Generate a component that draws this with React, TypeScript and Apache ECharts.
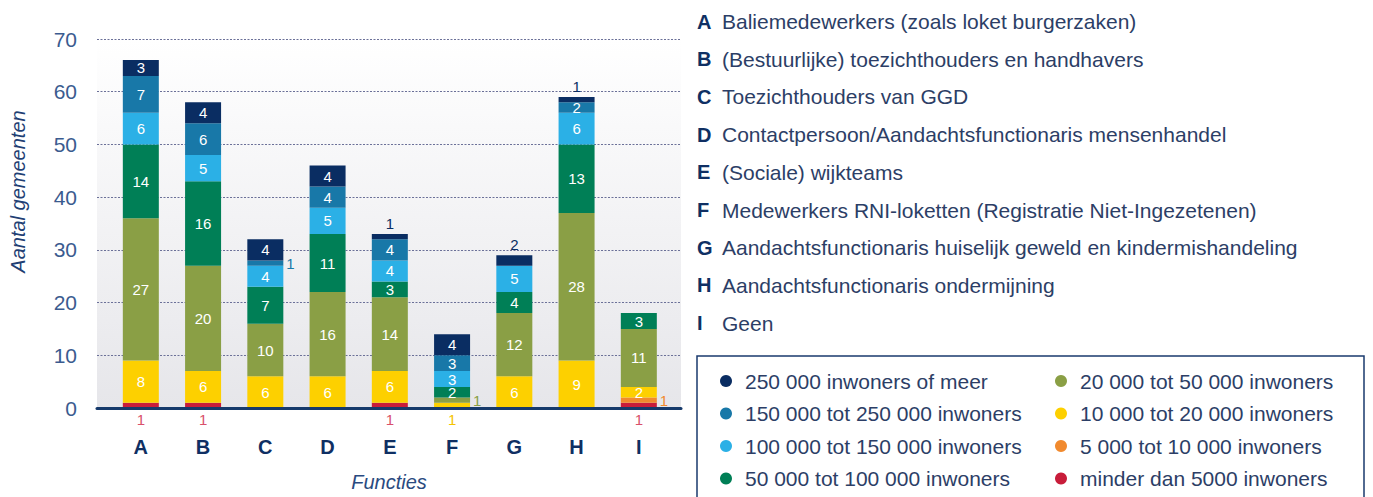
import React, { useEffect, useRef } from "react";
import * as echarts from "echarts";

const categories = ["A", "B", "C", "D", "E", "F", "G", "H", "I"];

const seriesNames = [
  "minder dan 5000 inwoners",
  "5 000 tot 10 000 inwoners",
  "10 000 tot 20 000 inwoners",
  "20 000 tot 50 000 inwoners",
  "50 000 tot 100 000 inwoners",
  "100 000 tot 150 000 inwoners",
  "150 000 tot 250 000 inwoners",
  "250 000 inwoners of meer",
];

const lt5k = [1, 1, 0, 0, 1, 0, 0, 0, 1];
const k5to10 = [0, 0, 0, 0, 0, 0, 0, 0, 1];
const k10to20 = [8, 6, 6, 6, 6, 1, 6, 9, 2];
const k20to50 = [27, 20, 10, 16, 14, 1, 12, 28, 11];
const k50to100 = [14, 16, 7, 11, 3, 2, 4, 13, 3];
const k100to150 = [6, 5, 4, 5, 4, 3, 5, 6, 0];
const k150to250 = [7, 6, 1, 4, 4, 3, 0, 2, 0];
const k250plus = [3, 4, 4, 4, 1, 4, 2, 1, 0];

const seriesValues = [lt5k, k5to10, k10to20, k20to50, k50to100, k100to150, k150to250, k250plus];

const seriesColors = ["#c81d3a", "#f18a2e", "#fdd000", "#8a9f45", "#007f56", "#2bb0e6", "#1878a8", "#0a2d62"];
const outsideLabelColors = ["#d9506a", "#f18a2e", "#f5c400", "#8a9f45", "#007f56", "#2bb0e6", "#1878a8", "#0a2d62"];

// outside label placement: [seriesIndex, categoryIndex, position]
const outsideLabels: [number, number, string][] = [
  [0, 0, "bottom"],
  [0, 1, "bottom"],
  [0, 4, "bottom"],
  [0, 8, "bottom"],
  [2, 5, "bottom"],
  [1, 8, "right"],
  [3, 5, "right"],
  [6, 2, "right"],
  [7, 4, "top"],
  [7, 6, "top"],
  [7, 7, "top"],
];

const functionLetters = ["A", "B", "C", "D", "E", "F", "G", "H", "I"];
const functionNames = [
  "Baliemedewerkers (zoals loket burgerzaken)",
  "(Bestuurlijke) toezichthouders en handhavers",
  "Toezichthouders van GGD",
  "Contactpersoon/Aandachtsfunctionaris mensenhandel",
  "(Sociale) wijkteams",
  "Medewerkers RNI-loketten (Registratie Niet-Ingezetenen)",
  "Aandachtsfunctionaris huiselijk geweld en kindermishandeling",
  "Aandachtsfunctionaris ondermijning",
  "Geen",
];

const legendCol1 = [seriesNames[7], seriesNames[6], seriesNames[5], seriesNames[4]];
const legendCol2 = [seriesNames[3], seriesNames[2], seriesNames[1], seriesNames[0]];

const FONT = "'Liberation Sans', Arial, sans-serif";

export default function App() {
  const ref = useRef<HTMLDivElement>(null);

  useEffect(() => {
    if (!ref.current) return;
    const chart = echarts.init(ref.current, null, { renderer: "svg" });

    const series: any[] = seriesValues.map((vals, si) => ({
      name: seriesNames[si],
      type: "bar",
      stack: "total",
      xAxisIndex: 0,
      yAxisIndex: 0,
      barWidth: 36,
      itemStyle: { color: seriesColors[si] },
      label: {
        show: true,
        position: "inside",
        color: "#ffffff",
        fontSize: 15,
        fontFamily: FONT,
      },
      data: vals.map((v, ci) => {
        const out = outsideLabels.find((o) => o[0] === si && o[1] === ci);
        if (v === 0) return { value: v, label: { show: false } };
        if (out) {
          return {
            value: v,
            label: {
              show: true,
              position: out[2],
              distance: out[2] === "bottom" ? 4 : 3,
              color: outsideLabelColors[si],
              fontSize: 15,
              fontFamily: FONT,
            },
          };
        }
        return { value: v };
      }),
    }));

    series.push({
      name: "bg",
      type: "line",
      xAxisIndex: 1,
      yAxisIndex: 1,
      data: [],
      silent: true,
    });

    const graphic: any[] = [];
    functionLetters.forEach((l, i) => {
      const y = 21.5 + i * 37.7;
      graphic.push({
        type: "text",
        left: 697,
        top: y - 10,
        style: {
          text: l,
          font: `bold 20px ${FONT}`,
          fill: "#0f2f63",
        },
      });
      graphic.push({
        type: "text",
        left: 722,
        top: y - 10.5,
        style: {
          text: functionNames[i],
          font: `21px ${FONT}`,
          fill: "#2c3e66",
        },
      });
    });
    graphic.push({
      type: "rect",
      shape: { x: 697, y: 356, width: 667, height: 160 },
      style: { fill: "none", stroke: "#1a3a6e", lineWidth: 1.5 },
      z: 1,
    });
    graphic.push({
      type: "text",
      x: 18,
      y: 191.5,
      rotation: Math.PI / 2,
      style: {
        text: "Aantal gemeenten",
        font: `italic 20px ${FONT}`,
        fill: "#1f3f74",
        align: "center",
        verticalAlign: "middle",
      },
    });
    graphic.push({
      type: "text",
      x: 389,
      y: 482,
      style: {
        text: "Functies",
        font: `italic 20px ${FONT}`,
        fill: "#2a4a80",
        align: "center",
        verticalAlign: "middle",
      },
    });

    const legendBase = {
      orient: "vertical",
      icon: "circle",
      itemWidth: 20,
      itemHeight: 12,
      itemGap: 11.5,
      padding: 0,
      height: 130,
      width: 320,
      selectedMode: false,
      textStyle: {
        fontSize: 21,
        lineHeight: 21,
        color: "#2c3e66",
        fontFamily: FONT,
        padding: [0, 0, 0, 4],
      },
    };

    chart.setOption({
      animation: false,
      textStyle: { fontFamily: FONT },
      grid: [
        { left: 109.7, width: 560.25, top: 39, bottom: 89, containLabel: false },
        {
          left: 97,
          right: 1373 - 681,
          top: 39,
          bottom: 89,
          show: true,
          borderWidth: 0,
          backgroundColor: new echarts.graphic.LinearGradient(0, 0, 0, 1, [
            { offset: 0, color: "#ffffff" },
            { offset: 1, color: "#e6e6ea" },
          ]),
          z: -1,
        },
      ],
      xAxis: [
        {
          type: "category",
          gridIndex: 0,
          data: categories,
          axisLine: { show: false },
          axisTick: { show: false },
          axisLabel: {
            margin: 29,
            fontSize: 20,
            fontWeight: "bold",
            color: "#0f2f63",
            fontFamily: FONT,
          },
        },
        {
          type: "value",
          gridIndex: 1,
          min: 0,
          max: 1,
          axisLine: { show: true, lineStyle: { color: "#163a6b", width: 3 } },
          axisTick: { show: false },
          axisLabel: { show: false },
          splitLine: { show: false },
          z: 10,
        },
      ],
      yAxis: [
        {
          type: "value",
          gridIndex: 0,
          min: 0,
          max: 70,
          interval: 10,
          axisLine: { show: false },
          axisTick: { show: false },
          axisLabel: { show: false },
          splitLine: { show: false },
        },
        {
          type: "value",
          gridIndex: 1,
          min: 0,
          max: 70,
          interval: 10,
          axisLine: { show: false },
          axisTick: { show: false },
          axisLabel: {
            margin: 20,
            fontSize: 21,
            color: "#3b5b8f",
            fontFamily: FONT,
          },
          splitLine: {
            show: true,
            lineStyle: { color: "#6b7098", width: 1.2, type: [2, 1.5] },
          },
        },
      ],
      legend: [
        { ...legendBase, data: legendCol1, left: 720, top: 370.5 },
        { ...legendBase, data: legendCol2, left: 1055, top: 370.5 },
      ],
      graphic,
      series,
    });

    return () => chart.dispose();
  }, []);

  return <div ref={ref} style={{ width: 1373, height: 497, position: "absolute", left: 0, top: 0 }} />;
}
